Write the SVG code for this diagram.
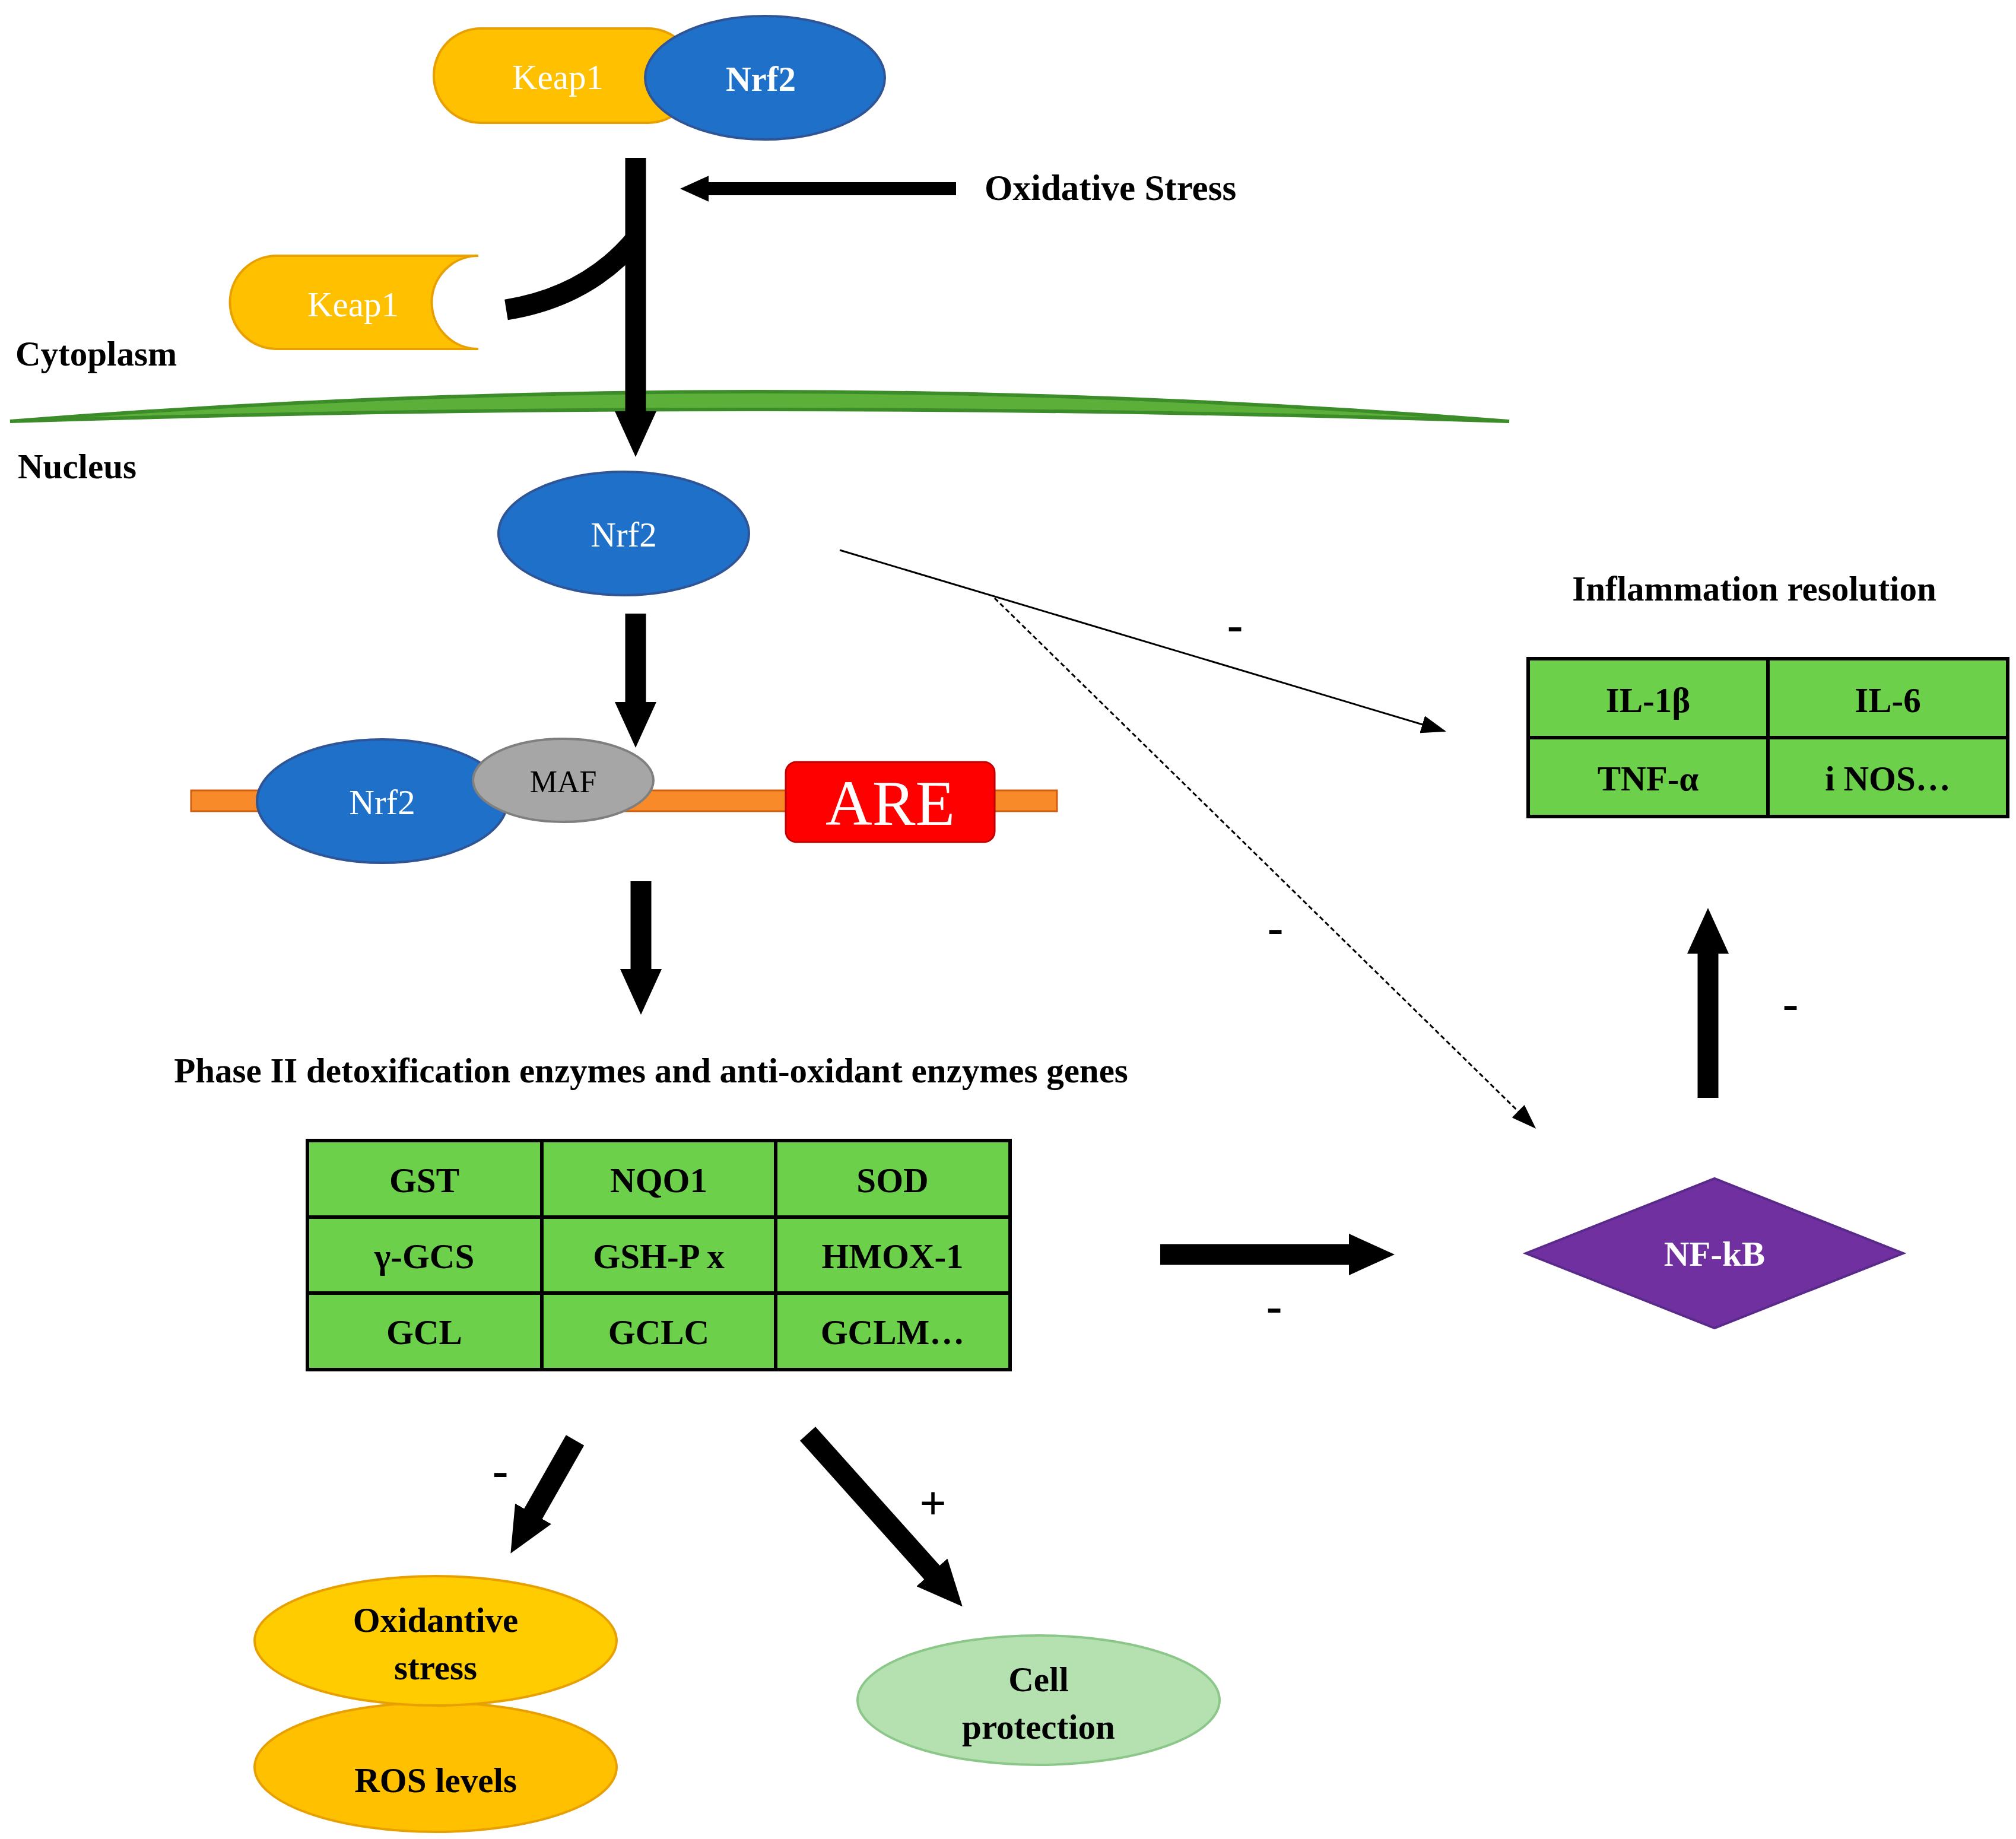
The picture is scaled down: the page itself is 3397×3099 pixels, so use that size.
<svg xmlns="http://www.w3.org/2000/svg" width="3397" height="3099" viewBox="0 0 3397 3099">
<style>
.t{font-family:"Liberation Serif",serif;font-weight:bold;font-size:59px;fill:#000}
.w{font-family:"Liberation Serif",serif;font-size:59px;fill:#fff}
.c{text-anchor:middle}
.cell{fill:#6CD04A;stroke:#000;stroke-width:6}
.thick{stroke:#000;stroke-width:35;fill:none}
</style>
<defs>
<marker id="big" markerWidth="2.2" markerHeight="2" refX="0.2" refY="1" orient="auto" markerUnits="strokeWidth"><path d="M0,0 L2.2,1 L0,2 z" fill="#000"/></marker>
<marker id="thin" markerWidth="14" markerHeight="10" refX="13" refY="5" orient="auto" markerUnits="strokeWidth"><path d="M0,0 L14,5 L0,10 z" fill="#000"/></marker>
</defs>
<rect width="3397" height="3099" fill="#fff"/>
<g id="keap1-top"><rect x="731" y="48" width="440" height="159" rx="79" fill="#FFC000" stroke="#E8A000" stroke-width="4"/><text x="940" y="150" class="w c">Keap1</text></g>
<g id="nrf2-top"><ellipse cx="1289" cy="131" rx="202" ry="104" fill="#1F70C8" stroke="#2F5597" stroke-width="4"/><text x="1282" y="153" class="w c" style="font-weight:bold">Nrf2</text></g>
<g id="keap1-free"><path d="M466,431 H806 A78,78 0 0 0 806,588 H466 A78,78 0 0 1 466,431 z" fill="#FFC000" stroke="#E8A000" stroke-width="4"/><text x="595" y="533" class="w c">Keap1</text></g>
<g id="membrane"><path d="M17,710 Q1280,610 2543,710 Q1280,670 17,710 z" fill="#5CB03A" stroke="#3C8C2A" stroke-width="6"/></g>
<text x="26" y="616" class="t">Cytoplasm</text>
<text x="30" y="806" class="t">Nucleus</text>
<text x="1659" y="337" class="t" style="font-size:61px">Oxidative Stress</text>
<g id="nrf2-nuc"><ellipse cx="1051" cy="899" rx="211" ry="104" fill="#1F70C8" stroke="#2F5597" stroke-width="4"/><text x="1051" y="921" class="w c">Nrf2</text></g>
<g id="dna"><rect x="322" y="1332" width="1459" height="35" fill="#F88A2A" stroke="#D06010" stroke-width="3"/></g>
<g id="nrf2-dna"><ellipse cx="644" cy="1350" rx="211" ry="104" fill="#1F70C8" stroke="#2F5597" stroke-width="4"/><text x="644" y="1372" class="w c">Nrf2</text></g>
<g id="maf"><ellipse cx="949" cy="1315" rx="152" ry="70" fill="#A6A6A6" stroke="#7F7F7F" stroke-width="4"/><text x="949" y="1335" class="c" style="font-family:'Liberation Serif',serif;font-size:52px">MAF</text></g>
<g id="are"><rect x="1324" y="1284" width="352" height="135" rx="18" fill="#FF0000" stroke="#C00000" stroke-width="3"/><text x="1500" y="1390" class="w c" style="font-size:109px">ARE</text></g>
<text x="1097" y="1824" class="t c">Phase II detoxification enzymes and anti-oxidant enzymes genes</text>
<g id="enzymes">
<rect x="518" y="1922" width="395" height="129" class="cell"/><rect x="913" y="1922" width="394" height="129" class="cell"/><rect x="1307" y="1922" width="395" height="129" class="cell"/>
<rect x="518" y="2051" width="395" height="128" class="cell"/><rect x="913" y="2051" width="394" height="128" class="cell"/><rect x="1307" y="2051" width="395" height="128" class="cell"/>
<rect x="518" y="2179" width="395" height="129" class="cell"/><rect x="913" y="2179" width="394" height="129" class="cell"/><rect x="1307" y="2179" width="395" height="129" class="cell"/>
<text x="715" y="2009" class="t c">GST</text><text x="1110" y="2009" class="t c">NQO1</text><text x="1504" y="2009" class="t c">SOD</text>
<text x="715" y="2137" class="t c">γ-GCS</text><text x="1110" y="2137" class="t c">GSH-P x</text><text x="1504" y="2137" class="t c">HMOX-1</text>
<text x="715" y="2265" class="t c">GCL</text><text x="1110" y="2265" class="t c">GCLC</text><text x="1504" y="2265" class="t c">GCLM…</text>
</g>
<text x="2956" y="1012" class="t c">Inflammation resolution</text>
<g id="cytokines">
<rect x="2575" y="1110" width="404" height="133" class="cell"/><rect x="2979" y="1110" width="404" height="133" class="cell"/>
<rect x="2575" y="1243" width="404" height="133" class="cell"/><rect x="2979" y="1243" width="404" height="133" class="cell"/>
<text x="2777" y="1200" class="t c">IL-1β</text><text x="3181" y="1200" class="t c">IL-6</text>
<text x="2777" y="1332" class="t c">TNF-α</text><text x="3181" y="1332" class="t c">i NOS…</text>
</g>
<g id="nfkb"><polygon points="2571,2112 2889,1986 3207,2112 2889,2238" fill="#7030A0" stroke="#5A2A8A" stroke-width="4"/><text x="2889" y="2133" class="t c" style="fill:#fff">NF-kB</text></g>
<g id="ox-stress"><ellipse cx="734" cy="2978" rx="305" ry="109" fill="#FFC000" stroke="#E8A000" stroke-width="4"/><text x="734" y="3020" class="t c">ROS  levels</text>
<ellipse cx="734" cy="2765" rx="305" ry="109" fill="#FFCC00" stroke="#E8A000" stroke-width="4"/><text x="734" y="2750" class="t c">Oxidantive</text><text x="734" y="2830" class="t c">stress</text></g>
<g id="cell-protection"><ellipse cx="1750" cy="2865" rx="305" ry="109" fill="#B5E0B0" stroke="#8CC78A" stroke-width="4"/><text x="1750" y="2850" class="t c">Cell</text><text x="1750" y="2930" class="t c">protection</text></g>
<g id="connectors">
<line x1="1071" y1="266" x2="1071" y2="700" class="thick" marker-end="url(#big)"/>
<line x1="1611" y1="318" x2="1190" y2="318" stroke="#000" stroke-width="22" marker-end="url(#big)"/>
<path d="M853,522 Q990,500 1071,403" class="thick" stroke-width="22"/>
<line x1="1071" y1="1034" x2="1071" y2="1190" class="thick" marker-end="url(#big)"/>
<line x1="1080" y1="1485" x2="1080" y2="1640" class="thick" marker-end="url(#big)"/>
<line x1="1955" y1="2114" x2="2280" y2="2114" class="thick" marker-end="url(#big)"/>
<line x1="2878" y1="1850" x2="2878" y2="1600" class="thick" marker-end="url(#big)"/>
<line x1="1415" y1="927" x2="2434" y2="1232" stroke="#000" stroke-width="3" marker-end="url(#thin)"/>
<line x1="1676" y1="1008" x2="2586" y2="1900" stroke="#000" stroke-width="3" stroke-dasharray="8,5" marker-end="url(#thin)"/>
<line x1="969" y1="2427" x2="895" y2="2557" class="thick" marker-end="url(#big)"/>
<line x1="1361" y1="2416" x2="1575" y2="2655" class="thick" marker-end="url(#big)"/>
</g>
<g class="t" style="font-size:80px">
<text x="2081" y="1080" class="c">-</text><text x="2149" y="1590" class="c">-</text><text x="3017" y="1718" class="c">-</text><text x="2147" y="2228" class="c">-</text><text x="843" y="2505" class="c">-</text><text x="1572" y="2560" class="c">+</text>
</g>
</svg>
